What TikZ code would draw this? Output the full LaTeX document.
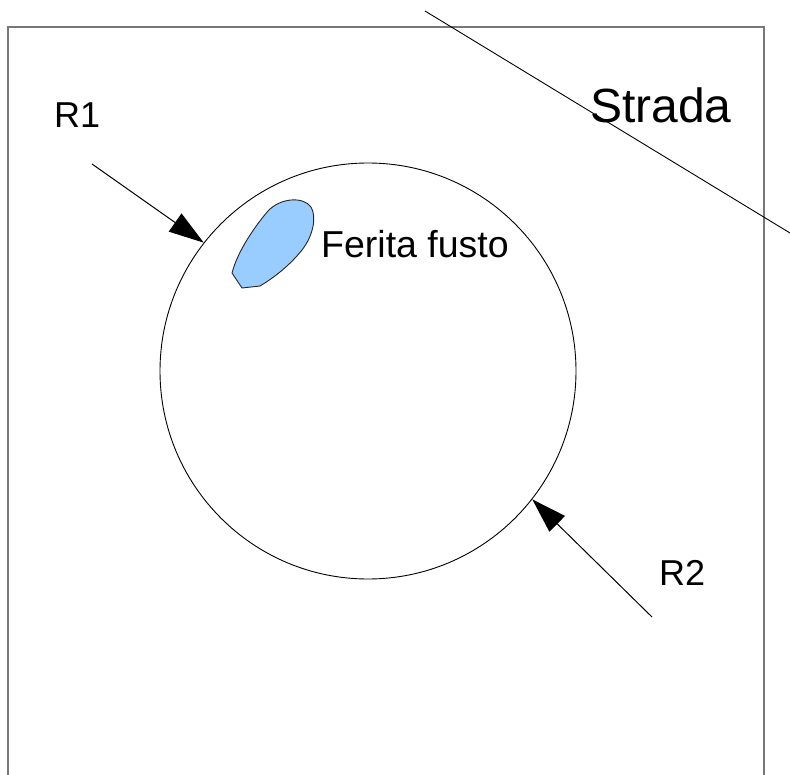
\documentclass[tikz,border=0pt]{standalone}
\usepackage{fontspec}
\setmainfont{Liberation Sans}
\usetikzlibrary{arrows.meta}
\definecolor{framegray}{RGB}{120,120,120}
\definecolor{woundblue}{RGB}{153,204,255}
\tikzset{
  lbl/.style={anchor=base west, inner sep=0pt, font=\fontsize{36}{40}\selectfont},
  bigl/.style={anchor=base west, inner sep=0pt, font=\fontsize{48}{52}\selectfont},
  arr/.style={draw=black, line width=1pt, -{Triangle[length=35pt,width=22pt]}},
  frame/.style={draw=framegray, line width=2pt},
  thin/.style={draw=black, line width=0.9pt}
}
\begin{document}
\begin{tikzpicture}[x=1pt,y=-1pt]
\useasboundingbox (0,0) rectangle (790,775);
% frame (bottom edge outside the picture)
\draw[frame] (8,775) -- (8,27) -- (764,27) -- (764,775);
% road
\coordinate (roadA) at (425,11);
\coordinate (roadB) at (790,233);
\draw[thin] (roadA) -- (roadB);
\node[bigl] (strada) at (590,123) {Strada};
% tree trunk
\node[circle, thin, minimum size=416pt, inner sep=0pt] (tree) at (368,371) {};
% wound
\draw[draw=black!85, line width=0.9pt, fill=woundblue]
  (260,286) -- (242,288) -- (232,273)
  .. controls (238,250) and (256,225) .. (268,211)
  .. controls (280,198) and (303,196) .. (311,207)
  .. controls (317,217) and (313,236) .. (302,250)
  .. controls (290,265) and (275,277) .. (260,286) -- cycle;
\node[lbl, font=\fontsize{37.5}{40}\selectfont] (ferita) at (321,258) {Ferita fusto};
% R1
\node[lbl] (r1) at (54,128) {R1};
\coordinate (r1s) at (92,164);
\draw[arr] (r1s) -- (tree.142);
% R2
\node[lbl] (r2) at (659,585) {R2};
\coordinate (r2s) at (652,617);
\draw[arr] (r2s) -- (tree.-38);
\end{tikzpicture}
\end{document}
